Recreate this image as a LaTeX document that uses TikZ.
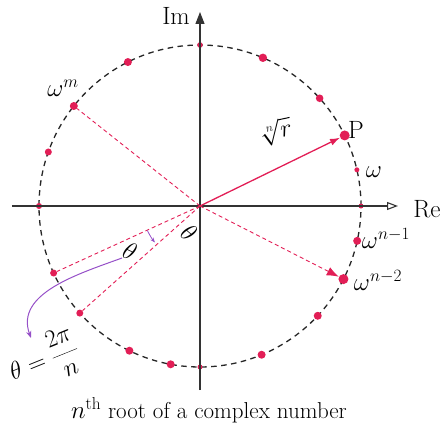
\documentclass[tikz,border=0pt]{standalone}
\usepackage{tikz}
\usetikzlibrary{arrows.meta}
\definecolor{rootred}{RGB}{226,30,86}
\definecolor{anglepurple}{RGB}{150,80,200}
\begin{document}
\begin{tikzpicture}[x=1pt,y=1pt,
  rdot/.style={circle,fill=rootred,inner sep=0pt},
  axisline/.style={line width=1.1pt,black!80},
  rdash/.style={rootred,dash pattern=on 4pt off 3pt,line width=0.9pt},
  axislabel/.style={font=\fontsize{25}{27}\selectfont},
  rootlabel/.style={font=\fontsize{26}{28}\selectfont}]
\useasboundingbox (-200,-220) rectangle (247,206);
\coordinate (O) at (0,0);
\draw[black!85,line width=1.3pt,dash pattern=on 5.5pt off 4.5pt] (O) circle[radius=161];
\node[rdot,minimum size=5.6pt] (dtop) at (90:161) {};
\node[rdot,minimum size=8.4pt] (d67) at (67:161) {};
\node[rdot,minimum size=7.6pt] (d42) at (42:161) {};
\node[rdot,minimum size=10pt] (P) at (26:161) {};
\node[rdot,minimum size=5pt] (w) at (13:161) {};
\node[rdot,minimum size=5pt] (dre) at (0:161) {};
\node[rdot,minimum size=8pt] (wn1) at (-12.5:161) {};
\node[rdot,minimum size=10pt] (wn2) at (-27:161) {};
\node[rdot,minimum size=8pt] (dse) at (-43:161) {};
\node[rdot,minimum size=8pt] (dsse) at (-67.5:161) {};
\node[rdot,minimum size=5pt] (dbot) at (-90:161) {};
\node[rdot,minimum size=8pt] (dsb) at (-100.5:161) {};
\node[rdot,minimum size=8pt] (dsw) at (-116:161) {};
\node[rdot,minimum size=7pt] (dla) at (-138.3:161) {};
\node[rdot,minimum size=7pt] (dlb) at (-155.4:161) {};
\node[rdot,minimum size=6pt] (dleft) at (180:161) {};
\node[rdot,minimum size=7pt] (d160) at (160.4:161) {};
\node[rdot,minimum size=8pt] (wm) at (141.6:161) {};
\node[rdot,minimum size=8pt] (d117) at (116.6:161) {};
\coordinate (rel) at (-188,0);
\coordinate (rex) at (198,0);
\coordinate (imb) at (0,-184);
\coordinate (imt) at (0,194);
\draw[axisline,-{Triangle[open,length=11pt,width=8pt]}] (rel) -- (rex);
\draw[axisline,-{Triangle[length=12pt,width=9pt]}] (imb) -- (imt);
\node[axislabel] (re) at (227,-3) {Re};
\node[axislabel] (im) at (-24,190) {Im};
\draw[rdash] (O) -- (wm);
\draw[rdash] (O) -- (dlb);
\draw[rdash] (O) -- (dla);
\draw[rdash,-{Latex[length=12pt,width=9pt]}] (O) -- (wn2);
\draw[rootred,line width=1.3pt,-{Latex[length=10pt,width=7pt]}] (O) -- (P);
\draw[anglepurple,line width=0.8pt,-{Stealth[length=5pt]}] (-155:58) arc[start angle=-155,end angle=-141,radius=58];
\node[rootlabel] (lwm) at (-137,118) {$\omega^m$};
\node[axislabel] (lP) at (156,76) {P};
\node[rootlabel,rotate=12,inner sep=0pt] (lrad) at (76,74) {$\sqrt[n]{r}$};
\node[rootlabel] (lw) at (174,34) {$\omega$};
\node[rootlabel] (lwn1) at (186,-32) {$\omega^{n-1}$};
\node[rootlabel] (lwn2) at (178,-74) {$\omega^{n-2}$};
\node[rootlabel,rotate=-25] (lth) at (-70,-45) {$\theta$};
\node[rootlabel,rotate=-40] (lorig) at (-11,-27) {$\theta$};
\coordinate (cstart) at (-78,-52);
\coordinate (cend) at (-169,-132);
\draw[anglepurple,line width=1pt,-{Stealth[length=7pt]}] (cstart) to[out=200,in=110] (cend);
\node[font=\fontsize{25}{27}\selectfont,rotate=22,inner sep=0pt] (lform) at (-156,-154) {$\displaystyle\theta=\frac{2\pi}{n}$};
\node[font=\fontsize{23}{27}\selectfont] (cap) at (9,-204) {$n^{\mathrm{th}}$ root of a complex number};
\end{tikzpicture}
\end{document}
